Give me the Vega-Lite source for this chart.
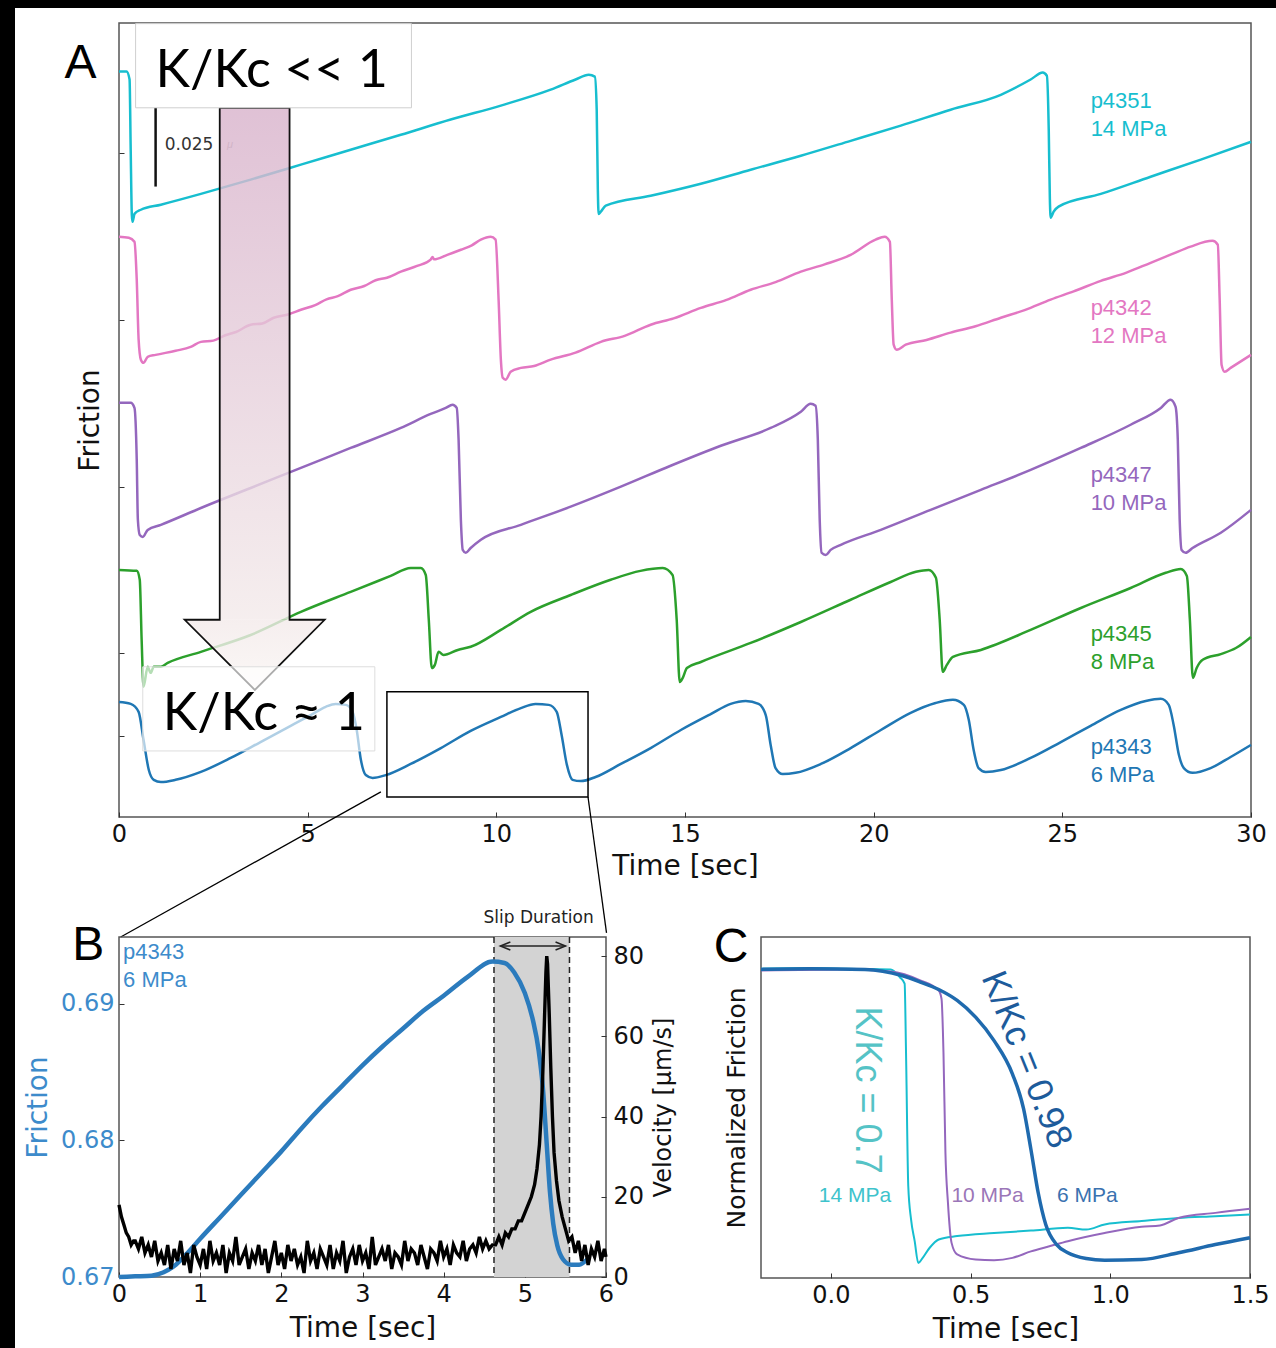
{
"$schema":"https://vega.github.io/schema/vega-lite/v6.json",
"background":"white",
"padding":0,
"config":{
 "view":{"stroke":"#555","strokeWidth":1.5},
 "axis":{"domain":false,"grid":false,"tickSize":-5,"tickColor":"#333","tickWidth":1,"labelFont":"DejaVu Sans","labelFontSize":24,"labelColor":"#111","labelPadding":10,"labelFlush":false,"titleFont":"DejaVu Sans","titleFontSize":28,"titleFontWeight":"normal","titleColor":"#111","titlePadding":6},
 "text":{"font":"Liberation Sans"}
},
"datasets":{
 "a_lines":[
  {"s":"p4351","t":0,"f":0.2347},{"s":"p4351","t":0.2,"f":0.2347},{"s":"p4351","t":0.28,"f":0.2322},{"s":"p4351","t":0.31,"f":0.2101},{"s":"p4351","t":0.34,"f":0.1896},{"s":"p4351","t":0.36,"f":0.1874},{"s":"p4351","t":0.41,"f":0.1899},{"s":"p4351","t":0.58,"f":0.1912},{"s":"p4351","t":1.11,"f":0.1928},{"s":"p4351","t":2.17,"f":0.1962},{"s":"p4351","t":3.49,"f":0.2007},{"s":"p4351","t":4.82,"f":0.2054},{"s":"p4351","t":6.14,"f":0.2101},{"s":"p4351","t":7.47,"f":0.2148},{"s":"p4351","t":8.79,"f":0.2196},{"s":"p4351","t":10.12,"f":0.224},{"s":"p4351","t":11.44,"f":0.229},{"s":"p4351","t":12.1,"f":0.2322},{"s":"p4351","t":12.45,"f":0.2337},{"s":"p4351","t":12.61,"f":0.2331},{"s":"p4351","t":12.66,"f":0.2227},{"s":"p4351","t":12.69,"f":0.1975},{"s":"p4351","t":12.71,"f":0.1899},{"s":"p4351","t":12.77,"f":0.1906},{"s":"p4351","t":12.9,"f":0.1925},{"s":"p4351","t":14.09,"f":0.1956},{"s":"p4351","t":15.42,"f":0.1994},{"s":"p4351","t":16.74,"f":0.2038},{"s":"p4351","t":18.07,"f":0.2082},{"s":"p4351","t":19.39,"f":0.2129},{"s":"p4351","t":20.72,"f":0.2177},{"s":"p4351","t":22.04,"f":0.2227},{"s":"p4351","t":23.37,"f":0.2274},{"s":"p4351","t":24.16,"f":0.2322},{"s":"p4351","t":24.48,"f":0.2344},{"s":"p4351","t":24.59,"f":0.2334},{"s":"p4351","t":24.64,"f":0.2164},{"s":"p4351","t":24.67,"f":0.1944},{"s":"p4351","t":24.69,"f":0.1887},{"s":"p4351","t":24.77,"f":0.1906},{"s":"p4351","t":24.9,"f":0.1922},{"s":"p4351","t":26.02,"f":0.1962},{"s":"p4351","t":27.34,"f":0.2016},{"s":"p4351","t":28.67,"f":0.207},{"s":"p4351","t":30,"f":0.2126},
  {"s":"p4342","t":0,"f":0.1827},{"s":"p4342","t":0.26,"f":0.1824},{"s":"p4342","t":0.41,"f":0.1811},{"s":"p4342","t":0.47,"f":0.1692},{"s":"p4342","t":0.52,"f":0.1503},{"s":"p4342","t":0.58,"f":0.144},{"s":"p4342","t":0.65,"f":0.143},{"s":"p4342","t":0.76,"f":0.1449},{"s":"p4342","t":0.97,"f":0.1455},{"s":"p4342","t":1.5,"f":0.1468},{"s":"p4342","t":1.9,"f":0.148},{"s":"p4342","t":2.17,"f":0.1496},{"s":"p4342","t":2.5,"f":0.15},{"s":"p4342","t":2.8,"f":0.1516},{"s":"p4342","t":3.1,"f":0.1527},{"s":"p4342","t":3.49,"f":0.155},{"s":"p4342","t":3.8,"f":0.1554},{"s":"p4342","t":4.1,"f":0.1572},{"s":"p4342","t":4.5,"f":0.1583},{"s":"p4342","t":4.82,"f":0.1597},{"s":"p4342","t":5.2,"f":0.1612},{"s":"p4342","t":5.5,"f":0.163},{"s":"p4342","t":5.8,"f":0.164},{"s":"p4342","t":6.14,"f":0.166},{"s":"p4342","t":6.5,"f":0.1672},{"s":"p4342","t":6.8,"f":0.169},{"s":"p4342","t":7.1,"f":0.1698},{"s":"p4342","t":7.47,"f":0.1717},{"s":"p4342","t":7.9,"f":0.1735},{"s":"p4342","t":8.26,"f":0.1755},{"s":"p4342","t":8.31,"f":0.1763},{"s":"p4342","t":8.35,"f":0.1756},{"s":"p4342","t":8.7,"f":0.177},{"s":"p4342","t":9.06,"f":0.1786},{"s":"p4342","t":9.35,"f":0.18},{"s":"p4342","t":9.59,"f":0.1818},{"s":"p4342","t":9.85,"f":0.1827},{"s":"p4342","t":9.98,"f":0.1818},{"s":"p4342","t":10.06,"f":0.1629},{"s":"p4342","t":10.12,"f":0.144},{"s":"p4342","t":10.17,"f":0.1383},{"s":"p4342","t":10.25,"f":0.1377},{"s":"p4342","t":10.38,"f":0.1402},{"s":"p4342","t":10.65,"f":0.1414},{"s":"p4342","t":11,"f":0.142},{"s":"p4342","t":11.44,"f":0.144},{"s":"p4342","t":12.1,"f":0.1462},{"s":"p4342","t":12.77,"f":0.1496},{"s":"p4342","t":13.4,"f":0.1515},{"s":"p4342","t":14.09,"f":0.155},{"s":"p4342","t":14.7,"f":0.157},{"s":"p4342","t":15.42,"f":0.1603},{"s":"p4342","t":16.1,"f":0.1628},{"s":"p4342","t":16.74,"f":0.166},{"s":"p4342","t":17.4,"f":0.1684},{"s":"p4342","t":18.07,"f":0.1717},{"s":"p4342","t":18.7,"f":0.174},{"s":"p4342","t":19.39,"f":0.177},{"s":"p4342","t":20.05,"f":0.1818},{"s":"p4342","t":20.29,"f":0.1827},{"s":"p4342","t":20.43,"f":0.1811},{"s":"p4342","t":20.48,"f":0.1629},{"s":"p4342","t":20.53,"f":0.1487},{"s":"p4342","t":20.61,"f":0.1471},{"s":"p4342","t":20.85,"f":0.1487},{"s":"p4342","t":21.4,"f":0.1502},{"s":"p4342","t":22.04,"f":0.1525},{"s":"p4342","t":22.7,"f":0.1545},{"s":"p4342","t":23.37,"f":0.1572},{"s":"p4342","t":24,"f":0.1596},{"s":"p4342","t":24.69,"f":0.1629},{"s":"p4342","t":25.3,"f":0.1655},{"s":"p4342","t":26.02,"f":0.1688},{"s":"p4342","t":26.7,"f":0.1714},{"s":"p4342","t":27.34,"f":0.1745},{"s":"p4342","t":27.9,"f":0.1772},{"s":"p4342","t":28.4,"f":0.1796},{"s":"p4342","t":28.98,"f":0.1814},{"s":"p4342","t":29.12,"f":0.1802},{"s":"p4342","t":29.17,"f":0.1629},{"s":"p4342","t":29.22,"f":0.1424},{"s":"p4342","t":29.3,"f":0.1402},{"s":"p4342","t":29.46,"f":0.1414},{"s":"p4342","t":30,"f":0.1455},
  {"s":"p4347","t":0,"f":0.1304},{"s":"p4347","t":0.31,"f":0.1304},{"s":"p4347","t":0.41,"f":0.1288},{"s":"p4347","t":0.47,"f":0.1125},{"s":"p4347","t":0.5,"f":0.0936},{"s":"p4347","t":0.55,"f":0.0888},{"s":"p4347","t":0.63,"f":0.0882},{"s":"p4347","t":0.76,"f":0.0904},{"s":"p4347","t":1.11,"f":0.092},{"s":"p4347","t":2.17,"f":0.0973},{"s":"p4347","t":3.49,"f":0.1036},{"s":"p4347","t":4.82,"f":0.1099},{"s":"p4347","t":6.14,"f":0.1162},{"s":"p4347","t":7.47,"f":0.1225},{"s":"p4347","t":8.26,"f":0.1269},{"s":"p4347","t":8.66,"f":0.1288},{"s":"p4347","t":8.84,"f":0.1298},{"s":"p4347","t":8.95,"f":0.1288},{"s":"p4347","t":9,"f":0.1188},{"s":"p4347","t":9.06,"f":0.0936},{"s":"p4347","t":9.11,"f":0.0841},{"s":"p4347","t":9.19,"f":0.0832},{"s":"p4347","t":9.32,"f":0.0847},{"s":"p4347","t":9.59,"f":0.0873},{"s":"p4347","t":10.65,"f":0.092},{"s":"p4347","t":11.97,"f":0.0977},{"s":"p4347","t":13.3,"f":0.104},{"s":"p4347","t":14.62,"f":0.1106},{"s":"p4347","t":15.95,"f":0.1169},{"s":"p4347","t":17.27,"f":0.1225},{"s":"p4347","t":18.07,"f":0.1276},{"s":"p4347","t":18.33,"f":0.1301},{"s":"p4347","t":18.46,"f":0.1295},{"s":"p4347","t":18.52,"f":0.1188},{"s":"p4347","t":18.57,"f":0.0936},{"s":"p4347","t":18.62,"f":0.0832},{"s":"p4347","t":18.73,"f":0.0825},{"s":"p4347","t":18.86,"f":0.0841},{"s":"p4347","t":19.13,"f":0.0857},{"s":"p4347","t":20.19,"f":0.0904},{"s":"p4347","t":21.51,"f":0.0967},{"s":"p4347","t":22.84,"f":0.103},{"s":"p4347","t":24.16,"f":0.1093},{"s":"p4347","t":25.49,"f":0.1162},{"s":"p4347","t":26.81,"f":0.1235},{"s":"p4347","t":27.61,"f":0.1288},{"s":"p4347","t":27.87,"f":0.1314},{"s":"p4347","t":28,"f":0.1292},{"s":"p4347","t":28.06,"f":0.1188},{"s":"p4347","t":28.11,"f":0.0936},{"s":"p4347","t":28.16,"f":0.0841},{"s":"p4347","t":28.27,"f":0.0832},{"s":"p4347","t":28.45,"f":0.0847},{"s":"p4347","t":29.2,"f":0.0895},{"s":"p4347","t":30,"f":0.0967},
  {"s":"p4345","t":0,"f":0.0778},{"s":"p4345","t":0.47,"f":0.0775},{"s":"p4345","t":0.55,"f":0.0747},{"s":"p4345","t":0.6,"f":0.0558},{"s":"p4345","t":0.65,"f":0.041},{"s":"p4345","t":0.76,"f":0.0473},{"s":"p4345","t":0.84,"f":0.0454},{"s":"p4345","t":0.92,"f":0.0473},{"s":"p4345","t":1.11,"f":0.0473},{"s":"p4345","t":1.29,"f":0.0485},{"s":"p4345","t":2.17,"f":0.052},{"s":"p4345","t":3.49,"f":0.0573},{"s":"p4345","t":4.82,"f":0.0646},{"s":"p4345","t":6.14,"f":0.0709},{"s":"p4345","t":7.2,"f":0.0759},{"s":"p4345","t":7.73,"f":0.0784},{"s":"p4345","t":8,"f":0.0784},{"s":"p4345","t":8.13,"f":0.0762},{"s":"p4345","t":8.21,"f":0.0621},{"s":"p4345","t":8.29,"f":0.0469},{"s":"p4345","t":8.37,"f":0.0479},{"s":"p4345","t":8.47,"f":0.052},{"s":"p4345","t":8.6,"f":0.051},{"s":"p4345","t":8.98,"f":0.0526},{"s":"p4345","t":9.32,"f":0.0536},{"s":"p4345","t":10.12,"f":0.0589},{"s":"p4345","t":10.91,"f":0.0646},{"s":"p4345","t":11.97,"f":0.0699},{"s":"p4345","t":13.03,"f":0.0747},{"s":"p4345","t":13.82,"f":0.0775},{"s":"p4345","t":14.41,"f":0.0784},{"s":"p4345","t":14.67,"f":0.0762},{"s":"p4345","t":14.78,"f":0.0621},{"s":"p4345","t":14.86,"f":0.0425},{"s":"p4345","t":14.94,"f":0.0438},{"s":"p4345","t":15.05,"f":0.0469},{"s":"p4345","t":15.42,"f":0.0488},{"s":"p4345","t":16.74,"f":0.0548},{"s":"p4345","t":18.07,"f":0.0614},{"s":"p4345","t":19.39,"f":0.0684},{"s":"p4345","t":20.45,"f":0.074},{"s":"p4345","t":21.12,"f":0.0772},{"s":"p4345","t":21.46,"f":0.0778},{"s":"p4345","t":21.65,"f":0.0753},{"s":"p4345","t":21.75,"f":0.0621},{"s":"p4345","t":21.83,"f":0.0457},{"s":"p4345","t":21.94,"f":0.0479},{"s":"p4345","t":22.1,"f":0.0504},{"s":"p4345","t":22.84,"f":0.0526},{"s":"p4345","t":24.16,"f":0.0589},{"s":"p4345","t":25.49,"f":0.0658},{"s":"p4345","t":26.81,"f":0.0721},{"s":"p4345","t":27.74,"f":0.0769},{"s":"p4345","t":28.14,"f":0.0781},{"s":"p4345","t":28.3,"f":0.0759},{"s":"p4345","t":28.38,"f":0.0621},{"s":"p4345","t":28.46,"f":0.0438},{"s":"p4345","t":28.56,"f":0.0469},{"s":"p4345","t":28.72,"f":0.0495},{"s":"p4345","t":29.2,"f":0.0513},{"s":"p4345","t":29.6,"f":0.0532},{"s":"p4345","t":30,"f":0.0567},
  {"s":"p4343","t":0,"f":0.0362},{"s":"p4343","t":0.31,"f":0.0356},{"s":"p4343","t":0.52,"f":0.0331},{"s":"p4343","t":0.65,"f":0.0243},{"s":"p4343","t":0.79,"f":0.0148},{"s":"p4343","t":0.92,"f":0.0117},{"s":"p4343","t":1.11,"f":0.011},{"s":"p4343","t":1.5,"f":0.0117},{"s":"p4343","t":2.17,"f":0.0142},{"s":"p4343","t":2.96,"f":0.0186},{"s":"p4343","t":3.75,"f":0.0236},{"s":"p4343","t":4.55,"f":0.0287},{"s":"p4343","t":5.08,"f":0.0321},{"s":"p4343","t":5.48,"f":0.0347},{"s":"p4343","t":5.74,"f":0.0356},{"s":"p4343","t":6.01,"f":0.0353},{"s":"p4343","t":6.19,"f":0.0331},{"s":"p4343","t":6.3,"f":0.0274},{"s":"p4343","t":6.41,"f":0.018},{"s":"p4343","t":6.54,"f":0.0132},{"s":"p4343","t":6.72,"f":0.0123},{"s":"p4343","t":7.07,"f":0.0132},{"s":"p4343","t":7.73,"f":0.0167},{"s":"p4343","t":8.53,"f":0.0217},{"s":"p4343","t":9.32,"f":0.0271},{"s":"p4343","t":10.12,"f":0.0315},{"s":"p4343","t":10.65,"f":0.0343},{"s":"p4343","t":11.04,"f":0.0356},{"s":"p4343","t":11.39,"f":0.0353},{"s":"p4343","t":11.6,"f":0.0331},{"s":"p4343","t":11.73,"f":0.0258},{"s":"p4343","t":11.87,"f":0.0164},{"s":"p4343","t":12.02,"f":0.0117},{"s":"p4343","t":12.24,"f":0.0113},{"s":"p4343","t":12.63,"f":0.0126},{"s":"p4343","t":13.3,"f":0.0167},{"s":"p4343","t":14.09,"f":0.0217},{"s":"p4343","t":14.89,"f":0.0274},{"s":"p4343","t":15.68,"f":0.0324},{"s":"p4343","t":16.21,"f":0.0356},{"s":"p4343","t":16.61,"f":0.0365},{"s":"p4343","t":16.95,"f":0.0356},{"s":"p4343","t":17.14,"f":0.0321},{"s":"p4343","t":17.27,"f":0.0227},{"s":"p4343","t":17.4,"f":0.0154},{"s":"p4343","t":17.59,"f":0.0135},{"s":"p4343","t":17.93,"f":0.0139},{"s":"p4343","t":18.6,"f":0.0167},{"s":"p4343","t":19.39,"f":0.0217},{"s":"p4343","t":20.19,"f":0.0274},{"s":"p4343","t":20.98,"f":0.0328},{"s":"p4343","t":21.64,"f":0.0359},{"s":"p4343","t":22.1,"f":0.0369},{"s":"p4343","t":22.39,"f":0.0353},{"s":"p4343","t":22.52,"f":0.0306},{"s":"p4343","t":22.65,"f":0.0211},{"s":"p4343","t":22.78,"f":0.0154},{"s":"p4343","t":22.97,"f":0.0142},{"s":"p4343","t":23.37,"f":0.0148},{"s":"p4343","t":24.16,"f":0.0186},{"s":"p4343","t":24.96,"f":0.0236},{"s":"p4343","t":25.75,"f":0.0287},{"s":"p4343","t":26.55,"f":0.0337},{"s":"p4343","t":27.21,"f":0.0365},{"s":"p4343","t":27.61,"f":0.0372},{"s":"p4343","t":27.82,"f":0.0353},{"s":"p4343","t":27.95,"f":0.029},{"s":"p4343","t":28.09,"f":0.0195},{"s":"p4343","t":28.22,"f":0.0154},{"s":"p4343","t":28.45,"f":0.0139},{"s":"p4343","t":28.93,"f":0.0154},{"s":"p4343","t":29.46,"f":0.0189},{"s":"p4343","t":30,"f":0.0227}
 ],
 "a_labels":[
  {"s":"p4351","t":25.75,"f":0.2255,"label":"p4351"},{"s":"p4351","t":25.75,"f":0.2167,"label":"14 MPa"},
  {"s":"p4342","t":25.75,"f":0.1603,"label":"p4342"},{"s":"p4342","t":25.75,"f":0.1515,"label":"12 MPa"},
  {"s":"p4347","t":25.75,"f":0.1077,"label":"p4347"},{"s":"p4347","t":25.75,"f":0.0989,"label":"10 MPa"},
  {"s":"p4345","t":25.75,"f":0.0576,"label":"p4345"},{"s":"p4345","t":25.75,"f":0.0488,"label":"8 MPa"},
  {"s":"p4343","t":25.75,"f":0.0221,"label":"p4343"},{"s":"p4343","t":25.75,"f":0.0132,"label":"6 MPa"}
 ],
 "b_fric":[
  {"t":0,"f":0.67},{"t":0.2,"f":0.67005},{"t":0.4,"f":0.6701},{"t":0.55,"f":0.67035},{"t":0.7,"f":0.6709},{"t":0.85,"f":0.6718},{"t":1,"f":0.6728},{"t":1.25,"f":0.6744},{"t":1.5,"f":0.676},{"t":1.75,"f":0.6776},{"t":2,"f":0.6792},{"t":2.25,"f":0.6809},{"t":2.5,"f":0.6825},{"t":2.75,"f":0.684},{"t":3,"f":0.6855},{"t":3.25,"f":0.6869},{"t":3.5,"f":0.6882},{"t":3.75,"f":0.6895},{"t":4,"f":0.6906},{"t":4.3,"f":0.692},{"t":4.6,"f":0.6931},{"t":4.75,"f":0.693},{"t":4.87,"f":0.6923},{"t":5,"f":0.6908},{"t":5.1,"f":0.6888},{"t":5.17,"f":0.6866},{"t":5.22,"f":0.684},{"t":5.27,"f":0.6797},{"t":5.31,"f":0.6762},{"t":5.35,"f":0.6739},{"t":5.4,"f":0.6723},{"t":5.47,"f":0.6713},{"t":5.57,"f":0.6709},{"t":5.67,"f":0.6709},{"t":5.77,"f":0.6713}
 ],
 "b_vel":[
  {"t":0,"v":18},{"t":0.03,"v":15},{"t":0.06,"v":13},{"t":0.09,"v":11},{"t":0.12,"v":10},{"t":0.15,"v":8},{"t":0.18,"v":9},
  {"t":0.2,"v":9},{"t":0.24,"v":7},{"t":0.28,"v":10},{"t":0.32,"v":6},{"t":0.36,"v":8},{"t":0.4,"v":5},{"t":0.44,"v":9},{"t":0.48,"v":4},
  {"t":0.52,"v":6},{"t":0.56,"v":3},{"t":0.6,"v":8},{"t":0.64,"v":2},{"t":0.68,"v":7},{"t":0.72,"v":4},{"t":0.76,"v":9},{"t":0.8,"v":3},{"t":0.84,"v":6},{"t":0.88,"v":1},
  {"t":0.92,"v":8},{"t":0.96,"v":5},{"t":1,"v":3},{"t":1.04,"v":7},{"t":1.08,"v":2},{"t":1.12,"v":9},{"t":1.16,"v":4},{"t":1.2,"v":6},{"t":1.24,"v":3},{"t":1.28,"v":8},
  {"t":1.32,"v":1},{"t":1.36,"v":6},{"t":1.4,"v":4},{"t":1.44,"v":10},{"t":1.48,"v":3},{"t":1.52,"v":5},{"t":1.56,"v":7},{"t":1.6,"v":2},{"t":1.64,"v":6},{"t":1.68,"v":4},
  {"t":1.72,"v":8},{"t":1.76,"v":3},{"t":1.8,"v":7},{"t":1.84,"v":1},{"t":1.88,"v":5},{"t":1.92,"v":9},{"t":1.96,"v":3},{"t":2,"v":6},{"t":2.04,"v":2},{"t":2.08,"v":8},
  {"t":2.12,"v":4},{"t":2.16,"v":7},{"t":2.2,"v":3},{"t":2.24,"v":5},{"t":2.28,"v":1},{"t":2.32,"v":9},{"t":2.36,"v":4},{"t":2.4,"v":6},{"t":2.44,"v":2},{"t":2.48,"v":7},
  {"t":2.52,"v":5},{"t":2.56,"v":3},{"t":2.6,"v":8},{"t":2.64,"v":2},{"t":2.68,"v":6},{"t":2.72,"v":4},{"t":2.76,"v":9},{"t":2.8,"v":1},{"t":2.84,"v":5},{"t":2.88,"v":7},
  {"t":2.92,"v":3},{"t":2.96,"v":8},{"t":3,"v":4},{"t":3.04,"v":6},{"t":3.08,"v":2},{"t":3.12,"v":10},{"t":3.16,"v":3},{"t":3.2,"v":5},{"t":3.24,"v":7},{"t":3.28,"v":4},
  {"t":3.32,"v":8},{"t":3.36,"v":2},{"t":3.4,"v":6},{"t":3.44,"v":5},{"t":3.48,"v":3},{"t":3.52,"v":9},{"t":3.56,"v":4},{"t":3.6,"v":7},{"t":3.64,"v":6},{"t":3.68,"v":3},
  {"t":3.72,"v":8},{"t":3.76,"v":5},{"t":3.8,"v":2},{"t":3.84,"v":7},{"t":3.88,"v":6},{"t":3.92,"v":4},{"t":3.96,"v":9},{"t":4,"v":5},{"t":4.04,"v":7},{"t":4.08,"v":3},
  {"t":4.12,"v":8},{"t":4.16,"v":6},{"t":4.2,"v":5},{"t":4.24,"v":9},{"t":4.28,"v":4},{"t":4.32,"v":7},{"t":4.36,"v":8},{"t":4.4,"v":6},{"t":4.44,"v":10},{"t":4.48,"v":7},
  {"t":4.52,"v":9},{"t":4.56,"v":7},{"t":4.6,"v":8},
  {"t":4.64,"v":8},{"t":4.68,"v":10},{"t":4.72,"v":8},{"t":4.76,"v":11},{"t":4.8,"v":10},{"t":4.84,"v":12},{"t":4.88,"v":12},{"t":4.92,"v":14},{"t":4.96,"v":14},{"t":5,"v":16},{"t":5.04,"v":18},{"t":5.08,"v":20},{"t":5.12,"v":23},{"t":5.15,"v":27},{"t":5.18,"v":33},{"t":5.2,"v":40},{"t":5.22,"v":50},{"t":5.24,"v":63},{"t":5.26,"v":76},{"t":5.27,"v":80},{"t":5.28,"v":78},{"t":5.3,"v":66},{"t":5.32,"v":52},{"t":5.34,"v":40},{"t":5.36,"v":31},{"t":5.39,"v":24},{"t":5.42,"v":19},{"t":5.46,"v":15},{"t":5.5,"v":12},{"t":5.54,"v":9},{"t":5.58,"v":10},{"t":5.62,"v":6},{"t":5.66,"v":9},{"t":5.7,"v":4},{"t":5.74,"v":8},{"t":5.78,"v":3},{"t":5.82,"v":7},{"t":5.86,"v":5},{"t":5.9,"v":9},{"t":5.94,"v":4},{"t":5.98,"v":7},{"t":6,"v":5}
 ],
 "c_cyan":[
  {"t":-0.25,"v":0.907},{"t":-0.077,"v":0.909},{"t":0.055,"v":0.907},{"t":0.214,"v":0.905},{"t":0.247,"v":0.882},{"t":0.264,"v":0.863},{"t":0.269,"v":0.662},{"t":0.277,"v":0.27},{"t":0.287,"v":0.172},{"t":0.3,"v":0.108},{"t":0.313,"v":0.044},{"t":0.326,"v":0.056},{"t":0.353,"v":0.088},{"t":0.386,"v":0.113},{"t":0.452,"v":0.123},{"t":0.584,"v":0.132},{"t":0.716,"v":0.139},{"t":0.848,"v":0.147},{"t":0.914,"v":0.142},{"t":0.98,"v":0.157},{"t":1.112,"v":0.167},{"t":1.244,"v":0.176},{"t":1.376,"v":0.181},{"t":1.5,"v":0.186}
 ],
 "c_purple":[
  {"t":-0.25,"v":0.902},{"t":0.055,"v":0.905},{"t":0.214,"v":0.899},{"t":0.32,"v":0.873},{"t":0.386,"v":0.843},{"t":0.396,"v":0.819},{"t":0.403,"v":0.662},{"t":0.41,"v":0.368},{"t":0.419,"v":0.221},{"t":0.432,"v":0.103},{"t":0.452,"v":0.069},{"t":0.518,"v":0.054},{"t":0.584,"v":0.052},{"t":0.65,"v":0.059},{"t":0.716,"v":0.078},{"t":0.782,"v":0.093},{"t":0.848,"v":0.108},{"t":0.98,"v":0.132},{"t":1.112,"v":0.15},{"t":1.178,"v":0.154},{"t":1.244,"v":0.176},{"t":1.376,"v":0.191},{"t":1.5,"v":0.203}
 ],
 "c_blue":[
  {"t":-0.25,"v":0.905},{"t":-0.077,"v":0.907},{"t":0.122,"v":0.905},{"t":0.254,"v":0.887},{"t":0.32,"v":0.868},{"t":0.386,"v":0.846},{"t":0.452,"v":0.814},{"t":0.518,"v":0.765},{"t":0.584,"v":0.696},{"t":0.65,"v":0.598},{"t":0.69,"v":0.495},{"t":0.716,"v":0.377},{"t":0.742,"v":0.25},{"t":0.769,"v":0.157},{"t":0.808,"v":0.098},{"t":0.848,"v":0.074},{"t":0.914,"v":0.057},{"t":0.98,"v":0.052},{"t":1.112,"v":0.054},{"t":1.244,"v":0.074},{"t":1.376,"v":0.098},{"t":1.5,"v":0.118}
 ]
},
"hconcat":[
 {"width":15,"height":1348,"view":{"fill":"black","stroke":null},"data":{"values":[{}]},"mark":{"type":"point","opacity":0},"encoding":{}},
 {"vconcat":[
   {"width":1261,"height":8,"view":{"fill":"black","stroke":null},"data":{"values":[{}]},"mark":{"type":"point","opacity":0},"encoding":{}},
   {"hconcat":[
     {"width":89,"height":10,"view":{"fill":null,"stroke":null},"data":{"values":[{}]},"mark":{"type":"point","opacity":0},"encoding":{}},
     {"vconcat":[
       {"width":1132,"height":794,
        "encoding":{
         "x":{"field":"t","type":"quantitative","scale":{"domain":[0,30],"nice":false,"zero":false},"axis":{"values":[0,5,10,15,20,25,30],"format":"d","title":"Time [sec]","titlePadding":6}},
         "y":{"field":"f","type":"quantitative","scale":{"domain":[0,0.25],"nice":false,"zero":false},"axis":{"values":[0.0255,0.0517,0.104,0.1566,0.2092],"labels":false,"title":"Friction","titlePadding":14}}
        },
        "layer":[
         {"data":{"name":"a_lines"},"mark":{"type":"line","strokeWidth":2.5,"interpolate":"monotone"},"encoding":{"color":{"field":"s","type":"nominal","scale":{"domain":["p4351","p4342","p4347","p4345","p4343"],"range":["#17becf","#e377c2","#9467bd","#2ca02c","#1f77b4"]},"legend":null}}},
         {"data":{"name":"a_labels"},"mark":{"type":"text","align":"left","baseline":"middle","fontSize":22},"encoding":{"text":{"field":"label"},"color":{"field":"s","type":"nominal","legend":null}}},
         {"data":{"values":[{"t":0.97,"f":0.2233,"f2":0.1985}]},"mark":{"type":"rule","color":"#111","strokeWidth":2.5},"encoding":{"y2":{"field":"f2"}}},
         {"data":{"values":[{"t":1.21,"f":0.2117,"label":"0.025"}]},"mark":{"type":"text","align":"left","baseline":"middle","fontSize":17,"font":"DejaVu Sans","color":"#333"},"encoding":{"text":{"field":"label"}}},
         {"data":{"values":[{"t":2.86,"f":0.2117,"label":"μ"}]},"mark":{"type":"text","align":"left","baseline":"middle","fontSize":11,"fontStyle":"italic","color":"#aaa"},"encoding":{"text":{"field":"label"}}},
         {"data":{"values":[{"t":7.1,"t2":12.43,"f":0.0394,"f2":0.0063}]},"mark":{"type":"rect","filled":false,"color":"black","strokeWidth":1.5},"encoding":{"x2":{"field":"t2"},"y2":{"field":"f2"}}},
         {"data":{"values":[{"t":0.045,"f":-0.0378,"t2":6.94,"f2":0.0079},{"t":12.43,"f":0.0063,"t2":12.92,"f2":-0.0365}]},"mark":{"type":"rule","color":"black","strokeWidth":1.3},"encoding":{"x2":{"field":"t2"},"y2":{"field":"f2"}}},
         {"data":{"values":[{"t":2.67,"t2":4.52,"f":0.2233,"f2":0.0621}]},"mark":{"type":"rect","fill":{"gradient":"linear","x1":0,"y1":0,"x2":0,"y2":1,"stops":[{"offset":0,"color":"#d8b2cb"},{"offset":1,"color":"#f3eaea"}]},"fillOpacity":0.8},"encoding":{"x2":{"field":"t2"},"y2":{"field":"f2"}}},
         {"data":{"values":[{"t":1.74,"f":0.0621,"f2":0.0621},{"t":3.6,"f":0.0621,"f2":0.04},{"t":5.45,"f":0.0621,"f2":0.0621}]},"mark":{"type":"area","fill":{"gradient":"linear","x1":0,"y1":0,"x2":0,"y2":1,"stops":[{"offset":0,"color":"#f3eaea"},{"offset":1,"color":"#faf6f4"}]},"fillOpacity":0.8},"encoding":{"y2":{"field":"f2"}}},
         {"data":{"values":[{"i":0,"t":2.67,"f":0.2233},{"i":1,"t":2.67,"f":0.0621},{"i":2,"t":1.74,"f":0.0621},{"i":3,"t":3.6,"f":0.04},{"i":4,"t":5.45,"f":0.0621},{"i":5,"t":4.52,"f":0.0621},{"i":6,"t":4.52,"f":0.2233},{"i":7,"t":2.67,"f":0.2233}]},"mark":{"type":"line","color":"#111","strokeWidth":1.8,"strokeJoin":"miter"},"encoding":{"order":{"field":"i","type":"quantitative"}}},
         {"data":{"values":[{"t":0.44,"t2":7.75,"f":0.2498,"f2":0.2233}]},"mark":{"type":"rect","fill":"white","stroke":"#cfcfcf","strokeWidth":1},"encoding":{"x2":{"field":"t2"},"y2":{"field":"f2"}}},
         {"data":{"values":[{"t":0.97,"f":0.23,"label":"K/Kc << 1"}]},"mark":{"type":"text","align":"left","baseline":"alphabetic","fontSize":52,"font":"Lato","color":"black"},"encoding":{"text":{"field":"label"}}},
         {"data":{"values":[{"t":0.63,"t2":6.78,"f":0.0473,"f2":0.0208}]},"mark":{"type":"rect","fill":"white","fillOpacity":0.65,"stroke":"#dddddd","strokeWidth":1},"encoding":{"x2":{"field":"t2"},"y2":{"field":"f2"}}},
         {"data":{"values":[{"t":1.16,"f":0.0274,"label":"K/Kc ≈ 1"}]},"mark":{"type":"text","align":"left","baseline":"alphabetic","fontSize":52,"font":"Lato","color":"black"},"encoding":{"text":{"field":"label"}}},
         {"data":{"values":[{"t":-1.02,"f":0.2328,"label":"A"}]},"mark":{"type":"text","align":"center","baseline":"alphabetic","fontSize":48,"color":"black"},"encoding":{"text":{"field":"label"}}}
        ]
       },
       {"hconcat":[
         {"width":487,"height":340,
          "layer":[
           {"data":{"values":[{"t":4.62,"t2":5.55}]},"mark":{"type":"rect","color":"#d3d3d3"},"encoding":{"x":{"field":"t","type":"quantitative","scale":{"domain":[0,6],"nice":false,"zero":false},"axis":{"values":[0,1,2,3,4,5,6],"format":"d","title":"Time [sec]","titlePadding":8}},"x2":{"field":"t2"}}},
           {"data":{"values":[{"t":4.62},{"t":5.55}]},"mark":{"type":"rule","color":"#222","strokeDash":[6,4],"strokeWidth":1.5},"encoding":{"x":{"field":"t","type":"quantitative"}}},
           {"data":{"name":"b_fric"},"mark":{"type":"line","color":"#2b7bbd","strokeWidth":4.5,"interpolate":"monotone"},"encoding":{"x":{"field":"t","type":"quantitative"},"y":{"field":"f","type":"quantitative","scale":{"domain":[0.67,0.6949],"nice":false,"zero":false},"axis":{"orient":"left","values":[0.67,0.68,0.69],"format":".2f","title":"Friction","labelColor":"#3d8bcb","titleColor":"#3d8bcb","titlePadding":8}}}},
           {"encoding":{"x":{"field":"t","type":"quantitative"},"y":{"field":"v","type":"quantitative","scale":{"domain":[0,84.75],"nice":false,"zero":false},"axis":{"orient":"right","values":[0,20,40,60,80],"title":"Velocity [μm/s]","titleAngle":270,"titleBaseline":"top","labelPadding":12,"titlePadding":8,"titleFontSize":24}}},
            "layer":[
             {"data":{"name":"b_vel"},"mark":{"type":"line","color":"black","strokeWidth":3.4}},
             {"data":{"values":[{"t":4.7,"t2":5.5,"v":82.5}]},"mark":{"type":"rule","color":"#222","strokeWidth":1.5},"encoding":{"x2":{"field":"t2"}}},
             {"data":{"values":[{"t":4.76,"v":82.5}]},"mark":{"type":"point","shape":"M1,-0.8L-1,0L1,0.8","filled":false,"size":100,"color":"#222","strokeWidth":1.5,"opacity":1}},
             {"data":{"values":[{"t":5.44,"v":82.5}]},"mark":{"type":"point","shape":"M-1,-0.8L1,0L-1,0.8","filled":false,"size":100,"color":"#222","strokeWidth":1.5,"opacity":1}},
             {"data":{"values":[{"t":5.17,"v":89.5,"label":"Slip Duration"}]},"mark":{"type":"text","fontSize":17,"font":"DejaVu Sans","color":"#222","baseline":"middle"},"encoding":{"text":{"field":"label"}}},
             {"data":{"values":[{"t":0.05,"v":81,"label":"p4343"},{"t":0.05,"v":74,"label":"6 MPa"}]},"mark":{"type":"text","align":"left","baseline":"middle","fontSize":22,"color":"#3d8bcb"},"encoding":{"text":{"field":"label"}}},
             {"data":{"values":[{"t":-0.38,"v":79,"label":"B"}]},"mark":{"type":"text","align":"center","baseline":"alphabetic","fontSize":48,"color":"black"},"encoding":{"text":{"field":"label"}}}
            ]}
          ],
          "resolve":{"scale":{"y":"independent"}}
         },
         {"width":489,"height":341,
          "encoding":{
           "x":{"field":"t","type":"quantitative","scale":{"domain":[-0.25,1.5],"nice":false,"zero":false},"axis":{"values":[0,0.5,1,1.5],"format":".1f","title":"Time [sec]","titlePadding":8}},
           "y":{"field":"v","type":"quantitative","scale":{"domain":[0,1],"nice":false,"zero":false},"axis":{"labels":false,"ticks":false,"title":"Normalized Friction","titlePadding":12,"titleFontSize":25}}
          },
          "layer":[
           {"data":{"name":"c_cyan"},"mark":{"type":"line","strokeWidth":2,"color":"#17becf","interpolate":"monotone"}},
           {"data":{"name":"c_purple"},"mark":{"type":"line","strokeWidth":2,"color":"#9467bd","interpolate":"monotone"}},
           {"data":{"name":"c_blue"},"mark":{"type":"line","strokeWidth":3.5,"color":"#1f6aae","interpolate":"monotone"}},
           {"data":{"values":[{"t":0.086,"v":0.24,"label":"14 MPa"}]},"mark":{"type":"text","fontSize":21,"baseline":"middle","color":"#3ec3cc"},"encoding":{"text":{"field":"label"}}},
           {"data":{"values":[{"t":0.561,"v":0.24,"label":"10 MPa"}]},"mark":{"type":"text","fontSize":21,"baseline":"middle","color":"#9b76b8"},"encoding":{"text":{"field":"label"}}},
           {"data":{"values":[{"t":0.918,"v":0.24,"label":"6 MPa"}]},"mark":{"type":"text","fontSize":21,"baseline":"middle","color":"#3a72b0"},"encoding":{"text":{"field":"label"}}},
           {"data":{"values":[{"t":0.129,"v":0.551,"label":"K/Kc = 0.7"}]},"mark":{"type":"text","angle":90,"fontSize":36,"color":"#55c3c6","baseline":"middle"},"encoding":{"text":{"field":"label"}}},
           {"data":{"values":[{"t":0.7,"v":0.64,"label":"K/Kc = 0.98"}]},"mark":{"type":"text","angle":68,"fontSize":36,"color":"#1d5b9b","baseline":"middle"},"encoding":{"text":{"field":"label"}}},
           {"data":{"values":[{"t":-0.357,"v":0.927,"label":"C"}]},"mark":{"type":"text","align":"center","fontSize":48,"color":"black","baseline":"alphabetic"},"encoding":{"text":{"field":"label"}}}
          ]
         }
       ],"spacing":155,"bounds":"flush"}
     ],"spacing":120,"bounds":"flush"}
   ],"spacing":15,"bounds":"flush"}
 ],"spacing":15,"bounds":"flush"}
],
"spacing":0,
"bounds":"flush"
}
